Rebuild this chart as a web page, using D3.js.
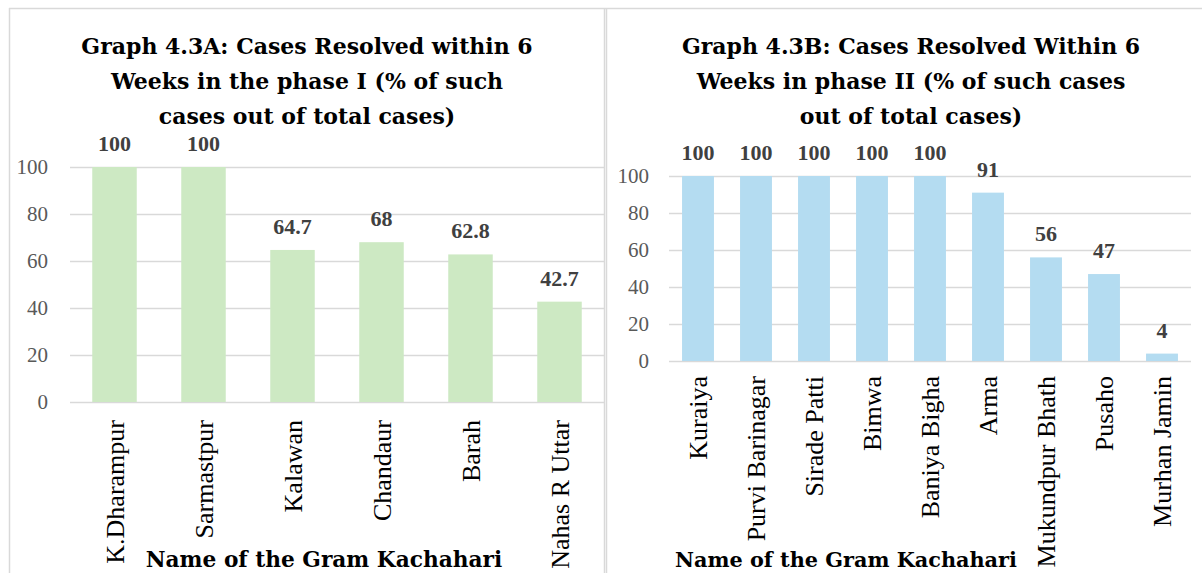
<!DOCTYPE html>
<html>
<head>
<meta charset="utf-8">
<script src="https://cdn.jsdelivr.net/npm/d3@7"></script>
<style>
  body { margin: 0; background: #fff; }
  svg { display: block; }
</style>
</head>
<body>
<svg id="chart" width="1202" height="573"></svg>
<script>
// phase I
const villagesA = ["K.Dharampur", "Sarmastpur", "Kalawan", "Chandaur", "Barah", "Nahas R Uttar"];
const valuesA = [100, 100, 64.7, 68, 62.8, 42.7];
const titleA = ["Graph 4.3A: Cases Resolved within 6", "Weeks in the phase I (% of such", "cases out of total cases)"];

// phase II
const villagesB = ["Kuraiya", "Purvi Barinagar", "Sirade Patti", "Bimwa", "Baniya Bigha", "Arma", "Mukundpur Bhath", "Pusaho", "Murhan Jamin"];
const valuesB = [100, 100, 100, 100, 100, 91, 56, 47, 4];
const titleB = ["Graph 4.3B: Cases Resolved Within 6", "Weeks in phase II (% of such cases", "out of total cases)"];

const yTicks = [0, 20, 40, 60, 80, 100];
const axisTitle = "Name of the Gram Kachahari";

const svg = d3.select("#chart");
const serif = "'Liberation Serif', 'Times New Roman', serif";
const titleFont = "'DejaVu Serif', Georgia, serif";

// outer frame lines (top + left edges of both panels)
svg.append("line").attr("x1", 9).attr("x2", 1202).attr("y1", 8.5).attr("y2", 8.5)
  .attr("stroke", "#d9d9d9").attr("stroke-width", 1.5);
[9.5, 604.5, 606.5].forEach(xx => {
  svg.append("line").attr("x1", xx).attr("x2", xx).attr("y1", 8).attr("y2", 573)
    .attr("stroke", "#d9d9d9").attr("stroke-width", 1.5);
});

function barChart(opts) {
  let g = svg.append("g");

  let x = d3.scaleBand().domain(opts.cats).range(opts.xr)
    .paddingInner(opts.pad).paddingOuter(opts.pad / 2);
  let y = d3.scaleLinear().domain([0, 100]).range(opts.yr);

  // grid
  g.selectAll(".grid").data(yTicks).join("line")
    .attr("x1", opts.xr[0]).attr("x2", opts.xr[1])
    .attr("y1", d => Math.round(y(d)) + 0.5).attr("y2", d => Math.round(y(d)) + 0.5)
    .attr("stroke", "#d9d9d9").attr("stroke-width", 1.3);

  let yAxis = g.append("g")
    .attr("transform", `translate(${opts.xr[0]},0)`)
    .call(d3.axisLeft(y).tickValues(yTicks).tickSize(0).tickPadding(opts.tickPad));
  yAxis.attr("font-family", serif);
  yAxis.select(".domain").remove();
  yAxis.selectAll("text")
    .attr("font-family", serif).attr("font-size", opts.tickSize).attr("fill", "#595959");

  g.selectAll(".bar").data(opts.vals).join("rect")
    .attr("x", (d, i) => x(opts.cats[i]))
    .attr("y", d => y(d))
    .attr("width", x.bandwidth())
    .attr("height", d => y(0) - y(d))
    .attr("fill", opts.color);

  g.selectAll(".val").data(opts.vals).join("text")
    .attr("x", (d, i) => x(opts.cats[i]) + x.bandwidth() / 2)
    .attr("y", d => y(d) - 16)
    .attr("text-anchor", "middle")
    .attr("font-family", serif).attr("font-weight", "bold")
    .attr("font-size", 22).attr("fill", "#404040")
    .text(d => d);

  // category labels, rotated
  g.selectAll(".cat").data(opts.cats).join("text")
    .attr("transform", d => `translate(${x(d) + x.bandwidth() / 2},${y(0) + opts.catGap}) rotate(-90)`)
    .attr("dy", "0.35em")
    .attr("text-anchor", "end")
    .attr("font-family", serif).attr("font-size", opts.catSize).attr("fill", "#000")
    .text(d => d);

  g.selectAll(".title").data(opts.title).join("text")
    .attr("x", opts.titleX)
    .attr("y", (d, i) => opts.titleY + i * 35)
    .attr("text-anchor", "middle")
    .attr("font-family", titleFont).attr("font-weight", "bold")
    .attr("font-size", opts.titleSize).attr("fill", "#000")
    .text(d => d);

  g.append("text")
    .attr("x", opts.axisX).attr("y", 567)
    .attr("text-anchor", "middle")
    .attr("font-family", titleFont).attr("font-weight", "bold")
    .attr("font-size", opts.axisSize).attr("fill", "#000")
    .text(axisTitle);
}

barChart({
  cats: villagesA, vals: valuesA, title: titleA,
  xr: [70, 604], yr: [402, 167], pad: 0.5,
  color: "#cde9c3", tickPad: 22, tickSize: 21,
  catGap: 18, catSize: 26,
  titleX: 307, titleY: 54, titleSize: 22,
  axisX: 324, axisSize: 21.7
});

barChart({
  cats: villagesB, vals: valuesB, title: titleB,
  xr: [669, 1191], yr: [361, 176], pad: 0.45,
  color: "#b4dcf1", tickPad: 20, tickSize: 21,
  catGap: 15, catSize: 26,
  titleX: 911, titleY: 54, titleSize: 22,
  axisX: 846, axisSize: 20.8
});
</script>
</body>
</html>
